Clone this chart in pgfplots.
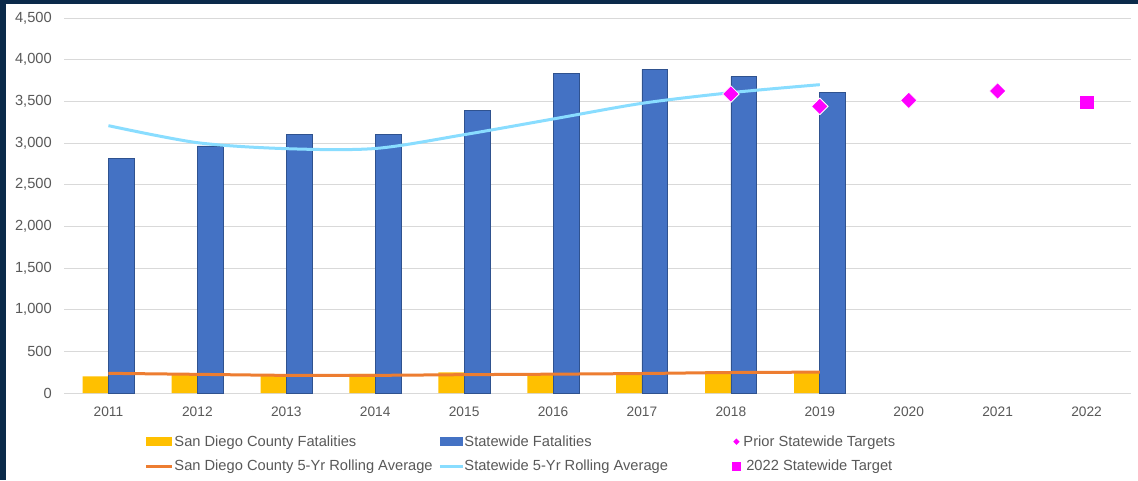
\documentclass[border=0pt]{standalone}
\usepackage{fontspec}
\setmainfont{Liberation Sans}
\usepackage{pgfplots}
\pgfplotsset{compat=1.18}
\definecolor{sdy}{HTML}{FFC000}
\definecolor{swb}{HTML}{4472C4}
\definecolor{swbd}{HTML}{2F528F}
\definecolor{sdo}{HTML}{ED7D31}
\definecolor{swl}{HTML}{89DDFF}
\definecolor{mag}{HTML}{FF00FF}
\definecolor{grd}{HTML}{D9D9D9}
\definecolor{txt}{HTML}{595959}
\definecolor{navy}{HTML}{0B2A4A}
\begin{document}
\begin{tikzpicture}
\fill[navy] (0,0) rectangle (853.5pt,360pt);
\fill[white] (4.5pt,0) rectangle (853.5pt,357pt);
\begin{axis}[
  at={(48pt,65.25pt)}, anchor=south west,
  scale only axis, width=800.25pt, height=281.25pt,
  xmin=-0.5, xmax=11.5, ymin=0, ymax=4500,
  ytick={0,500,...,4500},
  xtick={0,...,11},
  xticklabels={2011,2012,2013,2014,2015,2016,2017,2018,2019,2020,2021,2022},
  axis line style={draw=none}, tick style={draw=none},
  ymajorgrids, grid style={grd, line width=0.75pt},
  /pgf/number format/assume math mode=true,
  /pgf/number format/1000 sep={,},
  yticklabel style={font=\fontsize{11}{13}\selectfont, text=txt, inner sep=0pt, xshift=-9pt},
  xticklabel style={font=\fontsize{10.3}{12}\selectfont, text=txt, inner sep=0pt, yshift=-10.5pt},
  clip=false,
  legend columns=3,
  legend style={at={(axis description cs:0.0759,-0.113)}, anchor=north west,
    draw=none, fill=none, inner sep=0pt, outer sep=0pt,
    row sep=9pt, column sep=0pt,
    nodes={inner sep=0pt},
    font=\fontsize{11}{13}\selectfont, text=txt},
]
% legend entries
\addlegendimage{legend image code/.code={\path[draw=none,fill=none] (0pt,-4pt) rectangle (21pt,4pt); \fill[sdy,draw=none] (0pt,-3.25pt) rectangle (19.5pt,3.25pt);}}
\addlegendentry{\makebox[198pt][l]{San Diego County Fatalities}}
\addlegendimage{legend image code/.code={\path[draw=none,fill=none] (0pt,-4pt) rectangle (18pt,4pt); \fill[swb,draw=none] (0pt,-3.5pt) rectangle (17.25pt,3.5pt);}}
\addlegendentry{\makebox[199.5pt][l]{Statewide Fatalities}}
\addlegendimage{legend image code/.code={\path[draw=none,fill=none] (0pt,-4pt) rectangle (9.75pt,4pt); \fill[mag,draw=none] (4.5pt,-2.4pt) -- (6.9pt,0pt) -- (4.5pt,2.4pt) -- (2.1pt,0pt) -- cycle;}}
\addlegendentry{Prior Statewide Targets}
\addlegendimage{legend image code/.code={\path[draw=none,fill=none] (0pt,-4pt) rectangle (21pt,4pt); \draw[sdo, line width=2.25pt] (0pt,0pt) -- (19.5pt,0pt);}}
\addlegendentry{\makebox[198pt][l]{San Diego County 5-Yr Rolling Average}}
\addlegendimage{legend image code/.code={\path[draw=none,fill=none] (0pt,-4pt) rectangle (18pt,4pt); \draw[swl, line width=2.25pt] (0pt,0pt) -- (17.25pt,0pt);}}
\addlegendentry{\makebox[199.5pt][l]{Statewide 5-Yr Rolling Average}}
\addlegendimage{legend image code/.code={\path[draw=none,fill=none] (0pt,-4pt) rectangle (9.75pt,4pt); \fill[mag,draw=none] (1.1pt,-3.4pt) rectangle (7.9pt,3.4pt);}}
\addlegendentry{2022 Statewide Target}
% San Diego County fatalities
\addplot[ybar, bar width=0.29, bar shift=-0.145, fill=sdy, draw=none, forget plot]
  coordinates {(0,200) (1,222) (2,207) (3,231) (4,247) (5,226) (6,235) (7,264) (8,238)};
% Statewide fatalities
\addplot[ybar, bar width=0.29, bar shift=0.145, fill=swb, draw=swbd, line width=0.5pt, forget plot]
  coordinates {(0,2816) (1,2966) (2,3107) (3,3102) (4,3387) (5,3837) (6,3884) (7,3798) (8,3606)};
% San Diego 5-yr rolling average
\addplot[sdo, line width=2.25pt, smooth, tension=0.5, forget plot]
  coordinates {(0,236) (1,224) (2,212) (3,212) (4,220) (5,226) (6,234) (7,246) (8,250)};
% Statewide 5-yr rolling average
\addplot[swl, line width=2.25pt, smooth, tension=0.5, forget plot]
  coordinates {(0,3208) (1,3004) (2,2932) (3,2934) (4,3100) (5,3288) (6,3476) (7,3604) (8,3700)};
% Prior statewide targets
\addplot[only marks, mark=square*, mark size=4.4pt, mark options={rotate=45, fill=mag, draw=white, line width=0.6pt}, forget plot]
  coordinates {(7,3588) (8,3440) (9,3512) (10,3624)};
% 2022 target
\addplot[only marks, mark=square*, mark size=4.7pt, mark options={fill=mag, draw=mag}, forget plot]
  coordinates {(11,3488)};
\end{axis}
\end{tikzpicture}
\end{document}
